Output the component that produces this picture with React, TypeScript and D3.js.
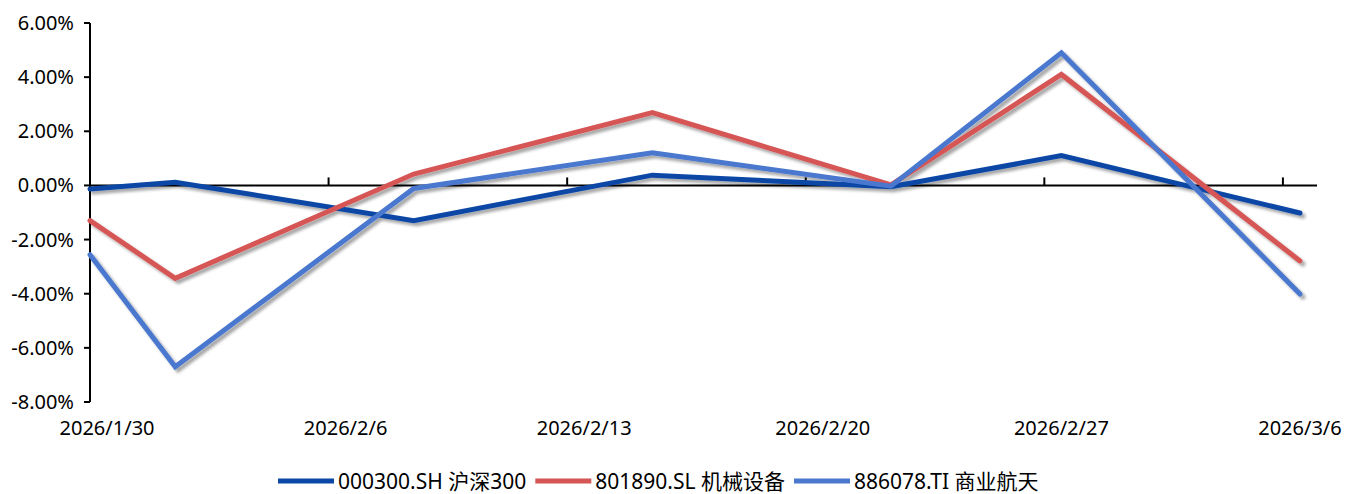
import * as d3 from "d3";
import { useEffect, useRef } from "react";

// ---- data ----
// days counted from 2026/1/30
const pointDays = [0, 2.5, 9.5, 16.5, 23.5, 28.5, 35.5];
const tickDays = [0, 7, 14, 21, 28, 35];
const tickLabels = ["2026/1/30", "2026/2/6", "2026/2/13", "2026/2/20", "2026/2/27", "2026/3/6"];
const yTicks = [-8, -6, -4, -2, 0, 2, 4, 6];

const seriesNames = ["000300.SH 沪深300", "801890.SL 机械设备", "886078.TI 商业航天"];
const hs300 = [-0.13, 0.12, -1.3, 0.38, -0.05, 1.1, -1.02];
const machinery = [-1.3, -3.43, 0.42, 2.69, 0.02, 4.1, -2.79];
const aerospace = [-2.56, -6.7, -0.11, 1.21, -0.03, 4.9, -4.01];
const colors = ["#0A47A6", "#D65555", "#4A78CE"];

export default function App() {
  const ref = useRef<SVGSVGElement>(null);

  useEffect(() => {
    const font = "'Noto Sans', 'Noto Sans CJK SC', sans-serif";

    const svg = d3.select(ref.current);
    svg.selectAll("*").remove();

    const x = d3.scaleLinear().domain([0, 36]).range([90, 1317]);
    const y = d3.scaleLinear().domain([-8, 6]).range([402, 23]);

    const defs = svg.append("defs");
    const f = defs
      .append("filter")
      .attr("id", "shadow")
      .attr("x", "-10%")
      .attr("y", "-10%")
      .attr("width", "120%")
      .attr("height", "120%");
    f.append("feDropShadow")
      .attr("dx", 3)
      .attr("dy", 3)
      .attr("stdDeviation", 1.8)
      .attr("flood-color", "#000")
      .attr("flood-opacity", 0.35);

    // y axis
    svg.append("line")
      .attr("x1", x(0)).attr("x2", x(0))
      .attr("y1", y(6)).attr("y2", y(-8))
      .attr("stroke", "#000").attr("stroke-width", 2);

    svg.append("g")
      .selectAll("line")
      .data(yTicks)
      .join("line")
      .attr("x1", x(0) - 6).attr("x2", x(0))
      .attr("y1", (d) => y(d)).attr("y2", (d) => y(d))
      .attr("stroke", "#000").attr("stroke-width", 2);

    svg.append("g")
      .selectAll("text")
      .data(yTicks)
      .join("text")
      .attr("x", 74)
      .attr("y", (d) => y(d))
      .attr("dy", "0.35em")
      .attr("text-anchor", "end")
      .attr("font-family", font)
      .attr("font-size", 20)
      .attr("fill", "#000")
      .text((d) => d.toFixed(2) + "%");

    // zero line + date ticks
    svg.append("line")
      .attr("x1", x(0)).attr("x2", x(36))
      .attr("y1", y(0)).attr("y2", y(0))
      .attr("stroke", "#000").attr("stroke-width", 2);

    svg.append("g")
      .selectAll("line")
      .data(tickDays.slice(1))
      .join("line")
      .attr("x1", (d) => x(d)).attr("x2", (d) => x(d))
      .attr("y1", y(0) - 8).attr("y2", y(0))
      .attr("stroke", "#000").attr("stroke-width", 2);

    svg.append("g")
      .selectAll("text")
      .data(tickDays)
      .join("text")
      .attr("x", (d) => x(d + 0.5))
      .attr("y", 435)
      .attr("text-anchor", "middle")
      .attr("font-family", font)
      .attr("font-size", 20)
      .attr("fill", "#000")
      .text((_, i) => tickLabels[i]);

    // lines
    const line = d3
      .line<number>()
      .x((_, i) => x(pointDays[i]))
      .y((d) => y(d));

    const all = [hs300, machinery, aerospace];
    svg.append("g")
      .attr("filter", "url(#shadow)")
      .selectAll("path")
      .data(all)
      .join("path")
      .attr("d", (d) => line(d))
      .attr("fill", "none")
      .attr("stroke", (_, i) => colors[i])
      .attr("stroke-width", 5)
      .attr("stroke-linecap", "round")
      .attr("stroke-linejoin", "miter");

    // legend
    const lg = svg.append("g").attr("font-family", font).attr("font-size", 21);
    const items = lg.selectAll("g").data(seriesNames).join("g");
    items.append("line")
      .attr("x1", 0).attr("x2", 56)
      .attr("y1", 0).attr("y2", 0)
      .attr("stroke", (_, i) => colors[i])
      .attr("stroke-width", 5);
    items.append("text")
      .attr("x", 60)
      .attr("dy", "0.36em")
      .attr("fill", "#000")
      .text((d) => d);

    const gap = 9;
    let offset = 0;
    const widths: number[] = [];
    items.each(function () {
      widths.push((this as SVGGElement).getBBox().width);
    });
    const start = 278;
    items.attr("transform", (_, i) => {
      const t = `translate(${start + offset},481)`;
      offset += widths[i] + gap;
      return t;
    });
  }, []);

  return (
    <svg
      ref={ref}
      width={1363}
      height={494}
      style={{ position: "absolute", left: 0, top: 0, background: "#fff" }}
    />
  );
}
